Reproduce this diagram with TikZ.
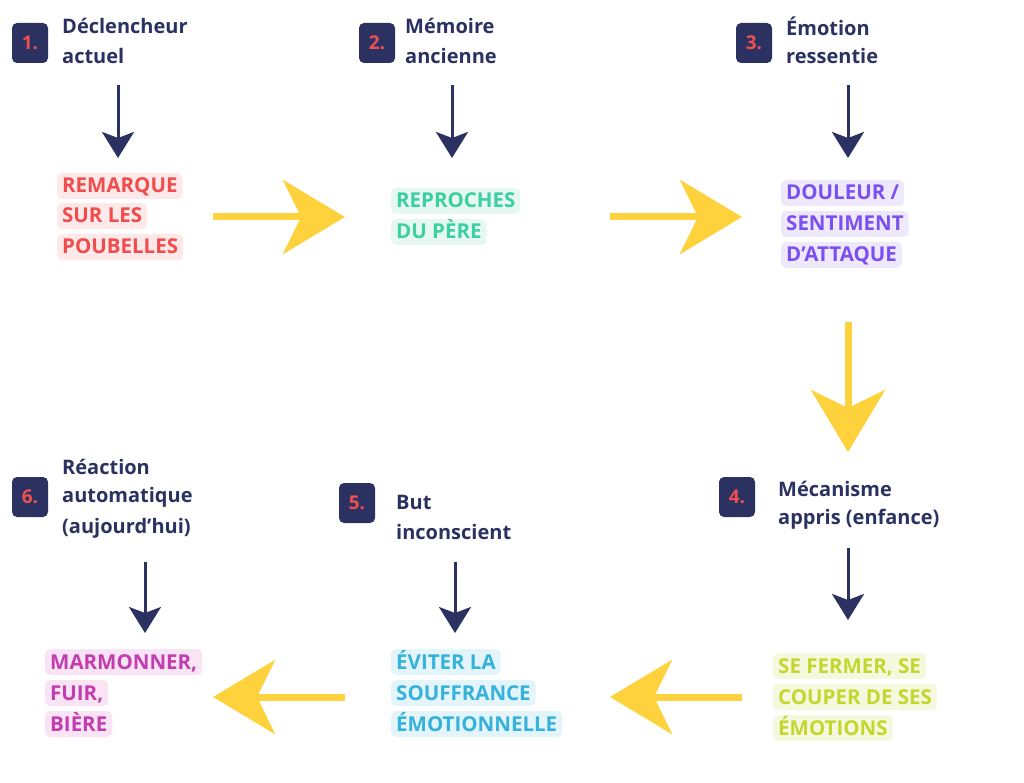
\documentclass[tikz,border=0pt]{standalone}
\usepackage{fontspec}
\setmainfont{Open Sans}
\usetikzlibrary{arrows.meta}
\definecolor{navy}{HTML}{2B3160}
\definecolor{badgered}{HTML}{F0504F}
\definecolor{yel}{HTML}{FDD23D}
\definecolor{cA}{HTML}{F24B4B}\definecolor{bA}{HTML}{FDE9E9}
\definecolor{cB}{HTML}{3CCFA0}\definecolor{bB}{HTML}{E6F8F1}
\definecolor{cC}{HTML}{7B4FF0}\definecolor{bC}{HTML}{EEE8FD}
\definecolor{cD}{HTML}{C5D72E}\definecolor{bD}{HTML}{F4F8DC}
\definecolor{cE}{HTML}{35B2DC}\definecolor{bE}{HTML}{E3F4FB}
\definecolor{cF}{HTML}{C23DAF}\definecolor{bF}{HTML}{F8E4F4}
\begin{document}
\begin{tikzpicture}[x=1pt,y=-1pt,
  badge/.style={fill=navy,rounded corners=5pt,minimum width=36pt,minimum height=40pt,text=badgered,font=\fontsize{19}{19}\selectfont\bfseries,inner sep=0pt},
  title/.style={anchor=west,text=navy,font=\fontsize{20}{20}\selectfont\bfseries,inner sep=0pt},
  hl/.style={anchor=west,font=\fontsize{20.5}{20}\selectfont\bfseries,inner sep=5pt,rounded corners=5pt,text height=15pt,text depth=1pt},
  down/.style={navy,line width=3pt,-{Stealth[length=26pt,width=32pt,inset=6pt]}},
  yarr/.style={yel,line width=7pt,-{Stealth[length=62pt,width=74pt,inset=18pt]}}]
\useasboundingbox (0,0) rectangle (1024,783);
% 1
\node[badge] (b1) at (30,43) {1.};
\node[title] (t1a) at (62,26) {Déclencheur};
\node[title] (t1b) at (62,56) {actuel};
\coordinate (s1) at (118,85); \coordinate (e1) at (118,158);
\draw[down] (s1) -- (e1);
\node[hl,fill=bA,text=cA] (h1a) at (57,186) {REMARQUE};
\node[hl,fill=bA,text=cA] (h1b) at (57,216) {SUR LES};
\node[hl,fill=bA,text=cA] (h1c) at (57,247) {POUBELLES};
% 2
\node[badge] (b2) at (377,43) {2.};
\node[title] (t2a) at (405,26) {Mémoire};
\node[title] (t2b) at (405,56) {ancienne};
\coordinate (s2) at (452,85); \coordinate (e2) at (452,158);
\draw[down] (s2) -- (e2);
\node[hl,fill=bB,text=cB] (h2a) at (391,201) {REPROCHES};
\node[hl,fill=bB,text=cB] (h2b) at (391,232) {DU PÈRE};
% 3
\node[badge] (b3) at (754,43) {3.};
\node[title] (t3a) at (786,26) {Émotion};
\node[title] (t3b) at (786,56) {ressentie};
\coordinate (s3) at (848,85); \coordinate (e3) at (848,158);
\draw[down] (s3) -- (e3);
\node[hl,fill=bC,text=cC] (h3a) at (781,193) {DOULEUR /};
\node[hl,fill=bC,text=cC] (h3b) at (781,224) {SENTIMENT};
\node[hl,fill=bC,text=cC] (h3c) at (781,255) {D’ATTAQUE};
% yellow top
\coordinate (y1s) at (213,217); \coordinate (y1e) at (345,217);
\coordinate (y2s) at (610,217); \coordinate (y2e) at (742,217);
\coordinate (y3s) at (848,322); \coordinate (y3e) at (848,452);
\draw[yarr] (y1s) -- (y1e);
\draw[yarr] (y2s) -- (y2e);
\draw[yarr] (y3s) -- (y3e);
% 4
\node[badge] (b4) at (737,497) {4.};
\node[title] (t4a) at (778,489) {Mécanisme};
\node[title] (t4b) at (778,519) {appris (enfance)};
\coordinate (s4) at (848,548); \coordinate (e4) at (848,620);
\draw[down] (s4) -- (e4);
\node[hl,fill=bD,text=cD] (h4a) at (773,666) {SE FERMER, SE};
\node[hl,fill=bD,text=cD] (h4b) at (773,697) {COUPER DE SES};
\node[hl,fill=bD,text=cD] (h4c) at (773,728) {ÉMOTIONS};
% 5
\node[badge] (b5) at (357,503) {5.};
\node[title] (t5a) at (396,502) {But};
\node[title] (t5b) at (396,532) {inconscient};
\coordinate (s5) at (455,562); \coordinate (e5) at (455,633);
\draw[down] (s5) -- (e5);
\node[hl,fill=bE,text=cE] (h5a) at (391,662) {ÉVITER LA};
\node[hl,fill=bE,text=cE] (h5b) at (391,693) {SOUFFRANCE};
\node[hl,fill=bE,text=cE] (h5c) at (391,724) {ÉMOTIONNELLE};
% 6
\node[badge] (b6) at (30,497) {6.};
\node[title] (t6a) at (62,467) {Réaction};
\node[title] (t6b) at (62,497) {automatique};
\node[title] (t6c) at (62,528) {(aujourd’hui)};
\coordinate (s6) at (145,562); \coordinate (e6) at (145,633);
\draw[down] (s6) -- (e6);
\node[hl,fill=bF,text=cF] (h6a) at (45,662) {MARMONNER,};
\node[hl,fill=bF,text=cF] (h6b) at (45,693) {FUIR,};
\node[hl,fill=bF,text=cF] (h6c) at (45,724) {BIÈRE};
% yellow bottom
\coordinate (y4s) at (742,697); \coordinate (y4e) at (610,697);
\coordinate (y5s) at (345,697); \coordinate (y5e) at (213,697);
\draw[yarr] (y4s) -- (y4e);
\draw[yarr] (y5s) -- (y5e);
\end{tikzpicture}
\end{document}
